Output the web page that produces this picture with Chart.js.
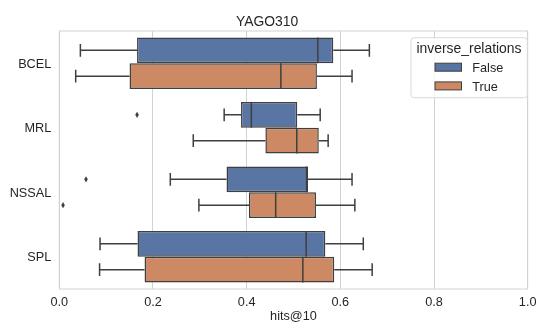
<!DOCTYPE html>
<html>
<head>
<meta charset="utf-8">
<title>YAGO310 hits@10</title>
<script src="https://cdn.jsdelivr.net/npm/chart.js@4/dist/chart.umd.min.js"></script>
<style>
  html, body { margin: 0; padding: 0; background: #ffffff; }
  #wrap { width: 542px; height: 322px; }
</style>
</head>
<body>
<div id="wrap"><canvas id="chart" width="542" height="322"></canvas></div>
<script>
// Categories (y axis) and x ticks
const categories = ['BCEL', 'MRL', 'NSSAL', 'SPL'];
const xTicks = [0.0, 0.2, 0.4, 0.6, 0.8, 1.0];

// inverse_relations = False : box-plot statistics per category
const falseLow     = [0.045, 0.352, 0.237, 0.087];
const falseQ1      = [0.166, 0.388, 0.357, 0.167];
const falseMedian  = [0.552, 0.410, 0.528, 0.527];
const falseQ3      = [0.585, 0.508, 0.531, 0.568];
const falseHigh    = [0.662, 0.557, 0.625, 0.649];
const falseFliers  = [[], [0.166], [0.057], []];

// inverse_relations = True : box-plot statistics per category
const trueLow      = [0.035, 0.286, 0.298, 0.086];
const trueQ1       = [0.150, 0.440, 0.405, 0.182];
const trueMedian   = [0.473, 0.507, 0.462, 0.520];
const trueQ3       = [0.550, 0.554, 0.548, 0.587];
const trueHigh     = [0.625, 0.574, 0.631, 0.668];
const trueFliers   = [[], [], [0.008], []];

const FONT = "'Liberation Sans', Arial, Helvetica, sans-serif";
const TEXT = '#262626';
const EDGE = '#3f3f3f';
const GRID = '#d2d2d2';

Chart.defaults.font.family = FONT;
Chart.defaults.color = TEXT;

function boxDataset(label, color, q1, q3, low, median, high, fliers) {
  return {
    label: label,
    data: q1.map((v, i) => [v, q3[i]]),
    backgroundColor: color,
    borderColor: EDGE,
    borderWidth: 1.5,
    borderSkipped: false,
    categoryPercentage: 0.8,
    barPercentage: 1.0,
    stats: { low: low, median: median, high: high, fliers: fliers }
  };
}

// Draws whiskers, medians, fliers, frame and the legend box
const boxPlotPlugin = {
  id: 'boxPlotParts',
  beforeDatasetsDraw(chart) {
    const ctx = chart.ctx;
    const area = chart.chartArea;
    const x = chart.scales.x;
    ctx.save();
    // axes frame
    ctx.strokeStyle = GRID;
    ctx.lineWidth = 1;
    ctx.strokeRect(area.left, area.top, area.right - area.left, area.bottom - area.top);
    // whiskers with caps
    ctx.strokeStyle = EDGE;
    ctx.lineWidth = 1.5;
    chart.data.datasets.forEach((ds, di) => {
      const meta = chart.getDatasetMeta(di);
      meta.data.forEach((bar, i) => {
        const p = bar.getProps(['x', 'y', 'base', 'height'], true);
        const h = p.height;
        const xLo = x.getPixelForValue(ds.stats.low[i]);
        const xHi = x.getPixelForValue(ds.stats.high[i]);
        const xQ1 = x.getPixelForValue(ds.data[i][0]);
        const xQ3 = x.getPixelForValue(ds.data[i][1]);
        ctx.beginPath();
        ctx.moveTo(xLo, p.y); ctx.lineTo(xQ1, p.y);
        ctx.moveTo(xQ3, p.y); ctx.lineTo(xHi, p.y);
        ctx.moveTo(xLo, p.y - h / 4); ctx.lineTo(xLo, p.y + h / 4);
        ctx.moveTo(xHi, p.y - h / 4); ctx.lineTo(xHi, p.y + h / 4);
        ctx.stroke();
      });
    });
    ctx.restore();
  },
  afterDatasetsDraw(chart) {
    const ctx = chart.ctx;
    const x = chart.scales.x;
    ctx.save();
    chart.data.datasets.forEach((ds, di) => {
      const meta = chart.getDatasetMeta(di);
      meta.data.forEach((bar, i) => {
        const p = bar.getProps(['x', 'y', 'base', 'height'], true);
        const h = p.height;
        // median
        const xm = x.getPixelForValue(ds.stats.median[i]);
        ctx.strokeStyle = EDGE;
        ctx.lineWidth = 1.5;
        ctx.beginPath();
        ctx.moveTo(xm, p.y - h / 2);
        ctx.lineTo(xm, p.y + h / 2);
        ctx.stroke();
        // fliers as thin diamonds
        ctx.fillStyle = EDGE;
        ds.stats.fliers[i].forEach(v => {
          const xf = x.getPixelForValue(v);
          ctx.beginPath();
          ctx.moveTo(xf, p.y - 3.2);
          ctx.lineTo(xf + 1.8, p.y);
          ctx.lineTo(xf, p.y + 3.2);
          ctx.lineTo(xf - 1.8, p.y);
          ctx.closePath();
          ctx.fill();
        });
      });
    });
    ctx.restore();
  },
  afterDraw(chart) {
    const ctx = chart.ctx;
    const lx = 411, ly = 37.7, lw = 116.3, lh = 60, r = 3;
    ctx.save();
    ctx.beginPath();
    ctx.roundRect(lx, ly, lw, lh, r);
    ctx.fillStyle = 'rgba(255,255,255,0.8)';
    ctx.fill();
    ctx.strokeStyle = '#d9d9d9';
    ctx.lineWidth = 1;
    ctx.stroke();

    ctx.fillStyle = TEXT;
    ctx.textBaseline = 'alphabetic';
    ctx.textAlign = 'center';
    ctx.font = '13.9px ' + FONT;
    ctx.fillText('inverse_relations', 469, 53.3);

    ctx.textAlign = 'left';
    ctx.font = '12.7px ' + FONT;
    const rows = [67.2, 85.9];
    chart.data.datasets.forEach((ds, di) => {
      const cy = rows[di];
      ctx.fillStyle = ds.backgroundColor;
      ctx.fillRect(435, cy - 4, 26.5, 8);
      ctx.strokeStyle = EDGE;
      ctx.lineWidth = 1;
      ctx.strokeRect(435, cy - 4, 26.5, 8);
      ctx.fillStyle = TEXT;
      ctx.fillText(ds.label, 472.3, cy + 4.6);
    });
    ctx.restore();
  }
};

new Chart(document.getElementById('chart'), {
  type: 'bar',
  data: {
    labels: categories,
    datasets: [
      boxDataset('False', '#5875a4', falseQ1, falseQ3, falseLow, falseMedian, falseHigh, falseFliers),
      boxDataset('True',  '#cc8963', trueQ1,  trueQ3,  trueLow,  trueMedian,  trueHigh,  trueFliers)
    ]
  },
  plugins: [boxPlotPlugin],
  options: {
    indexAxis: 'y',
    responsive: false,
    animation: false,
    layout: { padding: { left: 0, right: 7.7, top: 0, bottom: 0 } },
    plugins: {
      legend: { display: false },
      tooltip: { enabled: false },
      title: {
        display: true,
        text: 'YAGO310',
        color: TEXT,
        font: { size: 13.9, weight: 'normal', lineHeight: 1.2 },
        padding: { top: 13.56, bottom: 0.76 }
      }
    },
    scales: {
      x: {
        type: 'linear',
        min: 0,
        max: 1,
        afterBuildTicks(scale) { scale.ticks = xTicks.map(v => ({ value: v })); },
        afterFit(scale) { scale.height = 33; },
        ticks: {
          padding: 5.5,
          color: TEXT,
          font: { size: 12.7 },
          callback: v => Number(v).toFixed(1)
        },
        grid: { color: GRID, lineWidth: 1, drawTicks: false },
        border: { display: false },
        title: {
          display: true,
          text: 'hits@10',
          color: TEXT,
          font: { size: 12.7, lineHeight: 0.834 },
          padding: 0
        }
      },
      y: {
        type: 'category',
        afterFit(scale) { scale.width = 59.3; },
        ticks: {
          padding: 8,
          color: TEXT,
          labelOffset: 1.2,
          font: { size: 12.7 }
        },
        grid: { display: false, drawTicks: false },
        border: { display: false }
      }
    }
  }
});
</script>
</body>
</html>
